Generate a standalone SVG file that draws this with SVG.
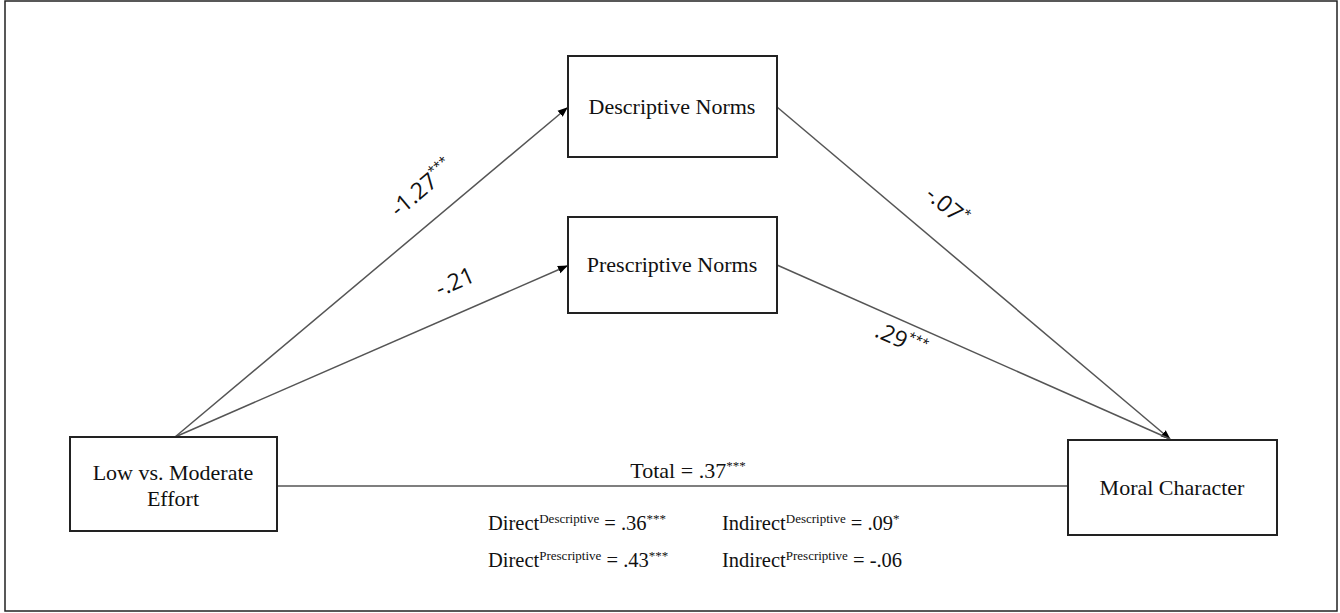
<svg xmlns="http://www.w3.org/2000/svg" width="1340" height="613" viewBox="0 0 1340 613">
<style>
.box{fill:#fff;stroke:#222;stroke-width:2}
.t{font-family:"Liberation Serif","Times New Roman",serif;font-size:22px;fill:#111}
.lab{font-family:"Open Sans","Liberation Sans",sans-serif;font-size:23px;fill:#111}
.sup{font-size:13px}
.eff{font-size:20.5px}
.conn{stroke:#555;stroke-width:1.5;fill:none}
</style>
<defs>
<marker id="ah" markerWidth="10" markerHeight="10" refX="9" refY="5" orient="auto" markerUnits="userSpaceOnUse">
<path d="M0,1 L10,5 L0,9 Z" fill="#000"/>
</marker>
</defs>
<rect x="5" y="1" width="1332" height="610" fill="#fff" stroke="#222" stroke-width="1.5"/>
<g id="connectors">
<line class="conn" x1="175" y1="437" x2="567" y2="108" marker-end="url(#ah)"/>
<line class="conn" x1="175" y1="437" x2="567" y2="266" marker-end="url(#ah)"/>
<line class="conn" x1="777" y1="107" x2="1170" y2="439" marker-end="url(#ah)"/>
<line class="conn" x1="777" y1="265" x2="1170" y2="439"/>
<line class="conn" x1="277" y1="486" x2="1068" y2="486"/>
<text class="lab" transform="translate(427,194) rotate(-40)" text-anchor="middle">-1.27<tspan class="sup" dy="-10">***</tspan></text>
<text class="lab" transform="translate(458,289) rotate(-23.6)" text-anchor="middle">-.21</text>
<text class="lab" transform="translate(942,212) rotate(40.3)" text-anchor="middle">-.07<tspan class="sup" dy="-10">*</tspan></text>
<text class="lab" transform="translate(898,347) rotate(24)" text-anchor="middle">.29<tspan class="sup" dy="-10">***</tspan></text>
<text class="t" x="688" y="478" text-anchor="middle">Total = .37<tspan class="sup" dy="-8">***</tspan></text>
</g>
<g id="node-effort">
<rect class="box" x="70" y="437" width="207" height="94"/>
<text class="t" x="173" y="480" text-anchor="middle">Low vs. Moderate</text>
<text class="t" x="173" y="506" text-anchor="middle">Effort</text>
</g>
<g id="node-descriptive">
<rect class="box" x="568" y="56" width="209" height="101"/>
<text class="t" x="672" y="114" text-anchor="middle">Descriptive Norms</text>
</g>
<g id="node-prescriptive">
<rect class="box" x="568" y="217" width="209" height="96"/>
<text class="t" x="672" y="272" text-anchor="middle">Prescriptive Norms</text>
</g>
<g id="node-moral">
<rect class="box" x="1068" y="440" width="209" height="95"/>
<text class="t" x="1172" y="495" text-anchor="middle">Moral Character</text>
</g>
<g id="effects">
<text class="t eff" x="488" y="530">Direct<tspan class="sup" dy="-7">Descriptive</tspan><tspan dy="7"> = .36</tspan><tspan class="sup" dy="-7">***</tspan></text>
<text class="t eff" x="488" y="567">Direct<tspan class="sup" dy="-7">Prescriptive</tspan><tspan dy="7"> = .43</tspan><tspan class="sup" dy="-7">***</tspan></text>
<text class="t eff" x="722" y="530">Indirect<tspan class="sup" dy="-7">Descriptive</tspan><tspan dy="7"> = .09</tspan><tspan class="sup" dy="-7">*</tspan></text>
<text class="t eff" x="722" y="567">Indirect<tspan class="sup" dy="-7">Prescriptive</tspan><tspan dy="7"> = -.06</tspan></text>
</g>
</svg>
